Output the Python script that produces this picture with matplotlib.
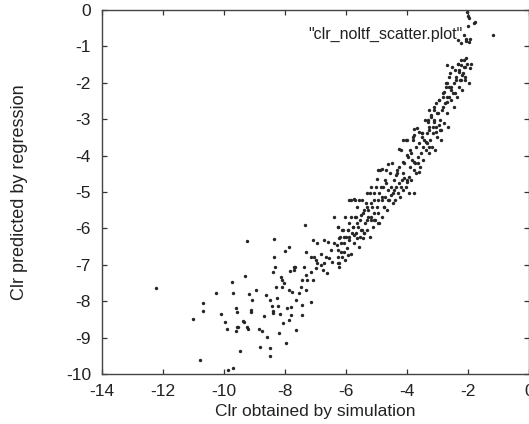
import matplotlib
matplotlib.use("Agg")
import numpy as np
import matplotlib.pyplot as plt

plt.rcParams['font.family'] = ['Liberation Sans', 'DejaVu Sans']
plt.rcParams['axes.unicode_minus'] = False

# sparse lower-left part of the cloud
sim_low = [-12.22, -10.99, -10.69, -10.69, -10.79, -10.25, -10.08, -9.97, -9.88, -9.87,
           -9.69, -9.72, -9.70, -9.61, -9.55, -9.56, -9.61, -9.46, -9.33, -9.31,
           -9.25, -9.19, -9.17, -9.12, -9.12, -9.07, -8.94, -8.83, -8.81, -8.76,
           -8.67, -8.60, -8.57, -8.48, -8.48, -8.48, -8.43, -8.40, -8.38, -8.37,
           -8.35, -8.34, -8.31, -8.27, -8.24, -8.22, -8.18, -8.15, -8.11, -8.09,
           -8.08, -8.07, -8.03, -7.99, -7.96, -7.92, -9.38, -9.52, -9.25]
reg_low = [-7.65, -8.50, -8.06, -8.27, -9.62, -7.78, -8.35, -8.56, -8.77, -9.89,
           -9.84, -7.48, -7.78, -8.20, -8.29, -8.70, -8.82, -9.37, -8.56, -7.31,
           -6.35, -8.75, -7.80, -8.24, -8.31, -7.97, -7.69, -8.75, -9.25, -8.81,
           -8.41, -7.82, -8.99, -9.29, -9.50, -7.97, -8.12, -8.33, -8.27, -7.21,
           -6.78, -6.29, -7.05, -7.60, -7.90, -8.12, -8.88, -8.36, -7.33, -7.42,
           -7.62, -8.61, -7.51, -6.61, -9.14, -8.20, -8.54, -8.72, -8.70]

# band between -7.9 and -6.3
sim_mid = [-7.86, -7.83, -7.67, -7.70, -7.31, -7.09, -6.93, -6.71, -6.57, -6.38,
           -6.38, -7.15, -6.98, -6.82, -6.66, -6.55, -6.82, -6.98, -6.76, -6.60,
           -7.15, -7.31, -7.26, -7.42, -7.09, -7.48, -7.31, -7.53, -7.75, -7.86,
           -7.64, -7.42, -7.80, -7.15, -7.80, -7.42, -7.86, -7.34, -7.62, -6.49,
           -6.44, -6.71, -7.04, -6.93, -7.37, -7.70]
reg_mid = [-6.52, -7.17, -7.07, -7.14, -6.64, -6.32, -6.39, -6.32, -6.36, -6.41,
           -5.68, -6.78, -6.87, -6.69, -6.78, -6.82, -7.01, -7.10, -7.14, -7.23,
           -7.19, -7.28, -7.42, -7.42, -7.42, -7.60, -7.69, -7.78, -7.74, -7.69,
           -7.97, -8.10, -8.15, -8.01, -8.38, -8.38, -8.52, -5.91, -8.79, -6.59,
           -6.92, -6.96, -6.78, -6.96, -7.05, -7.05]

# dense band between -6.3 and -3.3
sim_band = [-3.32, -3.49, -3.38, -3.27, -3.76, -3.98, -4.14, -4.25, -3.87, -3.65,
            -3.76, -3.60, -4.14, -3.98, -4.63, -4.80, -4.96, -4.98, -4.31, -4.36,
            -4.09, -3.98, -3.92, -3.76, -4.20, -4.42, -4.52, -4.69, -4.85, -5.18,
            -5.29, -5.07, -4.96, -4.80, -4.63, -4.74, -5.18, -5.29, -5.56, -5.73,
            -5.89, -5.40, -5.51, -5.67, -5.84, -5.18, -5.07, -5.29, -4.96, -5.62,
            -5.51, -5.78, -5.94, -6.11, -6.27, -6.22, -6.06, -5.89, -5.73, -5.62,
            -5.40, -6.16, -6.27, -6.06, -5.94, -6.27, -6.22,
            -6.29, -6.27, -6.25, -6.21, -6.18, -6.16, -6.13, -6.10, -6.07, -6.04,
            -6.01, -5.99, -5.96, -5.93, -5.91, -5.88, -5.84, -5.82, -5.79, -5.75,
            -5.73, -5.71, -5.69, -5.65, -5.62, -5.60, -5.57, -5.54, -5.52, -5.48,
            -5.46, -5.44, -5.42, -5.39, -5.37, -5.34, -5.30, -5.28, -5.26, -5.22,
            -5.20, -5.17, -5.15, -5.12, -5.09, -5.06, -5.03, -5.01, -4.98, -4.94,
            -4.92, -4.90, -4.87, -4.83, -4.81, -4.79, -4.75, -4.72, -4.70, -4.67,
            -4.64, -4.61, -4.58, -4.55, -4.53, -4.49, -4.47, -4.45, -4.42, -4.38,
            -4.36, -4.33, -4.30, -4.27, -4.25, -4.22, -4.19, -4.16, -4.13, -4.11,
            -4.08, -4.04, -4.02, -4.00, -3.97, -3.93, -3.91, -3.89, -3.85, -3.82,
            -3.80, -3.78, -3.74, -3.71, -3.69, -3.66, -3.63, -3.60, -3.57, -3.54,
            -3.52, -3.48, -3.46, -3.43, -3.40, -3.37, -3.35, -3.33]
reg_band = [-3.07, -3.39, -3.62, -3.75, -3.43, -3.57, -3.57, -3.83, -3.94, -4.21,
            -4.17, -4.44, -4.17, -3.98, -4.23, -4.38, -4.40, -4.65, -4.40, -4.53,
            -4.62, -4.72, -4.58, -5.02, -4.85, -4.95, -5.08, -4.76, -4.85, -4.85,
            -5.02, -5.04, -5.22, -5.13, -5.22, -5.40, -5.31, -5.40, -5.22, -5.20,
            -5.22, -5.49, -5.63, -5.68, -5.68, -5.68, -5.77, -5.77, -5.86, -5.86,
            -6.04, -5.95, -6.04, -6.04, -5.95, -6.27, -6.23, -6.23, -6.18, -6.27,
            -6.13, -6.41, -6.59, -6.64, -6.73, -6.78, -6.96,
            -6.46, -5.95, -6.96, -7.05, -6.23, -6.64, -6.78, -6.04, -6.41, -6.87,
            -5.68, -6.23, -6.55, -6.04, -6.32, -5.86, -5.22, -6.69, -6.14, -5.95,
            -6.41, -5.22, -5.68, -6.14, -5.40, -5.95, -6.50, -6.23, -5.77, -6.04,
            -5.22, -6.27, -5.59, -6.14, -5.86, -5.31, -6.04, -5.68, -5.49, -6.23,
            -5.04, -5.77, -5.40, -5.95, -5.59, -5.22, -5.77, -4.85, -5.40, -5.59,
            -5.04, -5.86, -4.40, -5.22, -5.68, -4.85, -5.40, -4.67, -5.13, -4.40,
            -5.49, -4.94, -5.22, -4.49, -4.85, -4.21, -5.31, -5.04, -4.67, -5.22,
            -4.85, -4.49, -5.04, -4.76, -4.30, -5.13, -3.85, -4.67, -4.94, -4.49,
            -4.21, -4.85, -3.57, -4.67, -4.03, -5.04, -4.30, -3.85, -4.67, -4.12,
            -3.57, -4.40, -4.21, -3.76, -4.49, -3.25, -4.03, -3.66, -4.30, -3.94,
            -3.39, -3.76, -4.12, -3.57, -3.02, -3.85, -3.39, -3.66]

# upper part, x above -3.8
sim_high = [-1.96, -1.79, -1.99, -2.07, -1.96, -2.23, -2.34, -2.14, -2.23, -2.34,
            -2.43, -2.28, -2.18, -2.23, -2.39, -2.61, -2.67, -2.56, -2.72, -2.78,
            -2.50, -2.61, -2.83, -2.67, -2.94, -3.05, -2.83, -3.10, -3.27, -3.00,
            -3.21, -3.32, -3.10, -2.94, -3.16, -3.27, -3.05, -2.89, -3.76, -3.60,
            -3.49, -3.81, -2.67, -2.10,
            -3.29, -3.26, -3.24, -3.21, -3.18, -3.15, -3.12, -3.10, -3.07, -3.04,
            -3.01, -2.99, -2.96, -2.92, -2.90, -2.88, -2.84, -2.81, -2.79, -2.75,
            -2.73, -2.70, -2.67, -2.65, -2.62, -2.58, -2.56, -2.54, -2.51, -2.47,
            -2.45, -2.43, -2.39, -2.36, -2.34, -2.30, -2.28, -2.25, -2.22, -2.20,
            -2.17, -2.13, -2.11, -2.09, -2.06, -2.02, -1.98, -1.94, -1.89,
            -2.03, -2.01, -1.78, -2.05, -2.12, -1.92]
reg_high = [-0.23, -0.35, -0.44, -0.81, -0.87, -0.90, -0.82, -1.37, -1.51, -1.47,
            -1.65, -1.69, -1.79, -1.92, -1.92, -1.83, -2.00, -2.11, -2.12, -2.24,
            -2.29, -2.38, -2.38, -2.52, -2.47, -2.56, -2.66, -2.75, -2.75, -2.84,
            -2.88, -3.02, -3.07, -3.16, -3.21, -3.30, -3.34, -3.30, -3.28, -3.34,
            -3.48, -3.48, -1.51, -1.56,
            -3.94, -3.21, -3.57, -2.93, -3.76, -3.39, -2.66, -3.02, -3.85, -3.21,
            -3.48, -2.84, -2.47, -3.30, -3.02, -3.57, -2.75, -2.29, -3.11, -2.56,
            -2.01, -2.84, -2.38, -3.21, -2.11, -1.74, -2.47, -2.20, -1.56, -2.66,
            -2.01, -2.29, -1.83, -2.38, -1.47, -2.11, -1.65, -1.92, -1.37, -2.20,
            -1.74, -1.56, -1.92, -1.83, -1.33, -1.47, -2.01, -1.60, -1.47,
            -0.05, -0.16, -0.33, -0.85, -0.70, -0.80]

sim_clr = np.array(sim_low + sim_mid + sim_band + sim_high)
reg_clr = np.array(reg_low + reg_mid + reg_band + reg_high)

x_ticks = [-14, -12, -10, -8, -6, -4, -2, 0]
y_ticks = [0, -1, -2, -3, -4, -5, -6, -7, -8, -9, -10]

fig = plt.figure(figsize=(5.29, 4.24), dpi=100)
ax = fig.add_axes([101.5 / 529, 50 / 424, 427.5 / 529, 364 / 424])

ax.scatter(sim_clr, reg_clr, s=6, color='#262626', linewidths=0,
           label='"clr_noltf_scatter.plot"')

ax.set_xlim(-14, 0)
ax.set_ylim(-10, 0)
ax.set_xticks(x_ticks)
ax.set_yticks(y_ticks)
ax.tick_params(direction='in', length=3.6, width=0.9, color='#333333',
               top=True, right=True, labelsize=12.5, pad=7.5, labelcolor='#222222')
for sp in ax.spines.values():
    sp.set_color('#444444')
    sp.set_linewidth(1.0)

ax.set_xlabel('Clr obtained by simulation', fontsize=12.5, color='#222222')
ax.set_ylabel('Clr predicted by regression', fontsize=13, color='#222222')
ax.xaxis.set_label_coords(0.5, -0.082)
ax.yaxis.set_label_coords(-0.172, 0.5)

ax.legend(loc='upper right', bbox_to_anchor=(507 / 529, 0.951),
          bbox_transform=fig.transFigure, frameon=False, markerfirst=False,
          handlelength=1.0, handletextpad=1.4, borderaxespad=0,
          fontsize=11.5, scatterpoints=1, labelcolor='#222222')

fig.savefig('out.png', dpi=100)
